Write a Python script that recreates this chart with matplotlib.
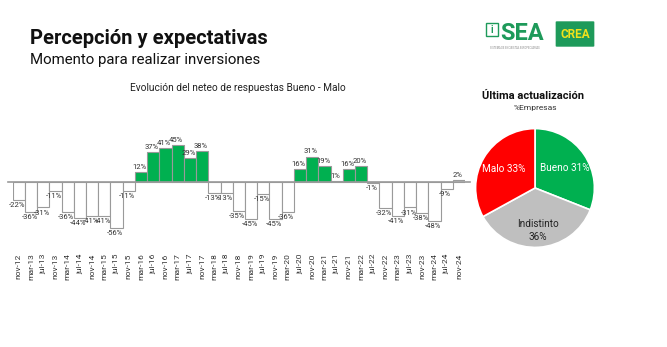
import matplotlib
matplotlib.use('Agg')
import matplotlib.pyplot as plt
from matplotlib.patches import FancyBboxPatch, Rectangle
import numpy as np

NARROW = ['Roboto', 'DejaVu Sans']

# datos: neteo Bueno - Malo (%)
periodos = ['nov-12', 'mar-13', 'jul-13', 'nov-13', 'mar-14', 'jul-14', 'nov-14',
            'mar-15', 'jul-15', 'nov-15', 'mar-16', 'jul-16', 'nov-16', 'mar-17',
            'jul-17', 'nov-17', 'mar-18', 'jul-18', 'nov-18', 'mar-19', 'jul-19',
            'nov-19', 'mar-20', 'jul-20', 'nov-20', 'mar-21', 'jul-21', 'nov-21',
            'mar-22', 'jul-22', 'nov-22', 'mar-23', 'jul-23', 'nov-23', 'mar-24',
            'jul-24', 'nov-24']
neteo = [-22, -36, -31, -11, -36, -44, -41, -41, -56, -11, 12, 37, 41, 45, 29, 38,
         -13, -13, -35, -45, -15, -45, -36, 16, 31, 19, 1, 16, 20, -1, -32, -41,
         -31, -38, -48, -9, 2]

# ultima actualizacion
pie_labels = ['Bueno', 'Indistinto', 'Malo']
pie_values = [31, 36, 33]
pie_colors = ['#00B050', '#BFBFBF', '#FF0000']
pie_txtcol = ['white', '#222222', 'white']

W, H = 667., 347.
fig = plt.figure(figsize=(W/100, H/100), dpi=100)

def box(x0, y0, x1, y1):
    # pixel coords (top-left origin) -> figure fraction
    return [x0/W, 1-y1/H, (x1-x0)/W, (y1-y0)/H]

# titulos
fig.text(30/W, 1-44/H, 'Percepción y expectativas', fontsize=14.5, family=NARROW,
         color='#111111', fontweight='bold')
fig.text(30/W, 1-64/H, 'Momento para realizar inversiones', fontsize=10.8, family=NARROW,
         color='#111111')

# logos
fig.add_artist(Rectangle((486/W, 1-36/H), 12/W, 13/H, transform=fig.transFigure,
                         facecolor='white', edgecolor='#1E9A5A', linewidth=1))
fig.text(492/W, 1-30/H, 'i', fontsize=7, fontweight='bold', family=NARROW, color='#1E9A5A',
         ha='center', va='center')
fig.text(500/W, 1-40/H, 'SEA', fontsize=17, fontweight='bold', family=NARROW, color='#1E9A5A')
fig.text(515/W, 1-49/H, 'SISTEMA DE ENCUESTAS AGROPECUARIAS', fontsize=1.8, family=NARROW,
         color='#888888', ha='center')
fig.add_artist(FancyBboxPatch((557/W, 1-46/H), 36/W, 24/H, boxstyle='round,pad=0.002',
                              transform=fig.transFigure, facecolor='#1E9A5A', edgecolor='none'))
fig.text(575/W, 1-34/H, 'CREA', fontsize=8.5, fontweight='bold', family=NARROW,
         color='#F2E21B', ha='center', va='center')

# ---------------- barras
ax = fig.add_axes(box(12.7, 115, 465, 250))
x = np.arange(len(neteo))
colores = ['#00B050' if v > 5 else 'white' for v in neteo]
ax.bar(x, neteo, width=1.0, color=colores, edgecolor='#9A9A9A', linewidth=0.8, zorder=2)
ax.axhline(0, color='#9A9A9A', lw=1.2, zorder=3, xmin=-0.01, xmax=1.01, clip_on=False)
for xi, v in zip(x, neteo):
    if v >= 0:
        ax.annotate('%d%%' % v, (xi, v), xytext=(-1, 1.5), textcoords='offset points',
                    ha='center', va='bottom', fontsize=5.5, family=NARROW, color='#333333')
    else:
        ax.annotate('%d%%' % v, (xi, v), xytext=(-1, -1.5), textcoords='offset points',
                    ha='center', va='top', fontsize=5.5, family=NARROW, color='#333333')
ax.set_xlim(-0.5, len(neteo)-0.5)
ax.set_ylim(-82.9, 81.7)
ax.set_xticks(x)
ax.set_xticklabels(periodos, rotation=90, fontsize=6, family=NARROW, color='#333333')
ax.tick_params(axis='x', length=0, pad=2.5)
ax.set_yticks([])
for s in ax.spines.values():
    s.set_visible(False)
ax.patch.set_alpha(0)
fig.text(238/W, 1-88/H, 'Evolución del neteo de respuestas Bueno - Malo', fontsize=7.3,
         family=NARROW, ha='center', va='center', color='#222222')

# ---------------- torta
axp = fig.add_axes(box(475, 128, 595, 248))
wedges, _ = axp.pie(pie_values, colors=pie_colors, startangle=90, counterclock=False,
                    wedgeprops=dict(edgecolor='white', linewidth=1.2))
dist = [0.6, 0.72, 0.62]
for w, lab, val, c, d in zip(wedges, pie_labels, pie_values, pie_txtcol, dist):
    ang = np.deg2rad((w.theta1 + w.theta2) / 2.)
    if lab == 'Indistinto':
        txt = '%s\n%d%%' % (lab, val)
    else:
        txt = '%s %d%%' % (lab, val)
    axp.text(d*np.cos(ang), d*np.sin(ang), txt, ha='center', va='center', fontsize=7.2,
             family=NARROW, color=c, linespacing=1.4)
axp.set_xlim(-1.01, 1.01)
axp.set_ylim(-1.01, 1.01)
axp.set_aspect('equal')
fig.text(533/W, 1-96/H, 'Última actualización', fontsize=8, fontweight='bold',
         family=NARROW, ha='center', va='center', color='#111111')
fig.text(535/W, 1-108/H, '%Empresas', fontsize=6, family=NARROW, ha='center',
         va='center', color='#333333')

fig.savefig('out.png', dpi=100)
